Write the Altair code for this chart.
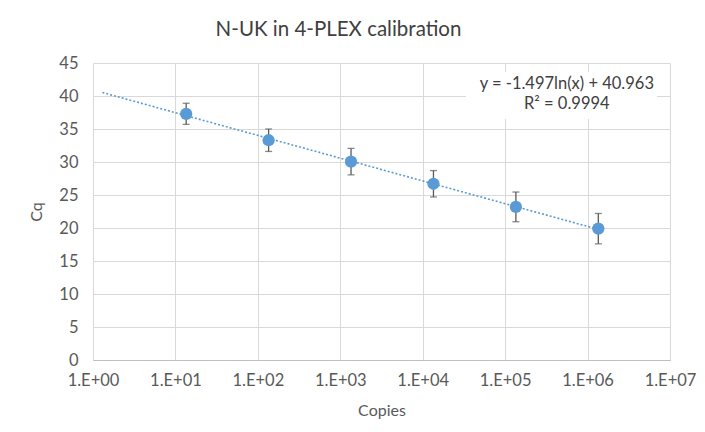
import altair as alt
import pandas as pd

copies = [13.5, 135, 1350, 13500, 135000, 1350000]
cq = [37.3, 33.3, 30.05, 26.7, 23.2, 19.9]
err = [1.6, 1.7, 2.0, 2.0, 2.25, 2.3]

x_ticks = [1, 10, 100, 1000, 10000, 100000, 1000000, 10000000]
y_ticks = [0, 5, 10, 15, 20, 25, 30, 35, 40, 45]

eq_lines = ["y = -1.497ln(x) + 40.963", "R² = 0.9994"]
eq_x = [560000, 560000]
eq_y = [41.85, 38.85]
box = {"x": [33500], "x2": [6950000], "y": [36.5], "y2": [43.6]}

df = pd.DataFrame({"copies": copies, "cq": cq, "err": err})
df["lo"] = df["cq"] - df["err"]
df["hi"] = df["cq"] + df["err"]

FONT = "Lato"
TXT = "#595959"
BLUE = "#5B9BD5"

xscale = alt.Scale(type="log", domain=[1, 10000000])
yscale = alt.Scale(domain=[0, 45], nice=False)

xax = alt.Axis(values=x_ticks, labelExpr="'1.E+' + format(round(log(datum.value)/LN10), '02d')",
               grid=True, gridColor="#d9d9d9", domainColor="#bfbfbf", ticks=False,
               labelPadding=12, titlePadding=14, labelFontSize=16.5, titleFontSize=16,
               labelColor=TXT, titleColor=TXT, labelFont=FONT, titleFont=FONT,
               titleFontWeight="normal", labelOverlap=False, labelFlush=False)
yax = alt.Axis(values=y_ticks, grid=True, gridColor="#d9d9d9", domain=False, ticks=False,
               labelPadding=15, titlePadding=14, labelFontSize=16.5, titleFontSize=16,
               labelColor=TXT, titleColor=TXT, labelFont=FONT, titleFont=FONT,
               titleFontWeight="normal", labelOverlap=False, labelFlush=False)

X = lambda f: alt.X(f, scale=xscale, axis=xax, title="Copies")
Y = lambda f: alt.Y(f, scale=yscale, axis=yax, title="Cq")

base = alt.Chart(df)

trend = base.transform_regression("copies", "cq", method="log", extent=[1.3, 1350000]).mark_line(
    color=BLUE, strokeDash=[2, 2], strokeWidth=1.6
).encode(x=X("copies:Q"), y=Y("cq:Q"))

bars = base.mark_rule(color="#595959", strokeWidth=1.3).encode(
    x=X("copies:Q"), y=Y("lo:Q"), y2="hi:Q"
)
cap_lo = base.mark_tick(color="#595959", thickness=1.3, size=7, orient="horizontal").encode(
    x=X("copies:Q"), y=Y("lo:Q")
)
cap_hi = base.mark_tick(color="#595959", thickness=1.3, size=7, orient="horizontal").encode(
    x=X("copies:Q"), y=Y("hi:Q")
)
points = base.mark_circle(color=BLUE, size=150, opacity=1).encode(
    x=X("copies:Q"), y=Y("cq:Q")
)

rect = alt.Chart(pd.DataFrame(box)).mark_rect(color="white").encode(
    x=X("x:Q"), x2="x2:Q", y=Y("y:Q"), y2="y2:Q"
)
eq = alt.Chart(pd.DataFrame({"t": eq_lines, "x": eq_x, "y": eq_y})).mark_text(
    font=FONT, fontSize=16.5, color="#404040"
).encode(x=X("x:Q"), y=Y("y:Q"), text="t:N")

chart = alt.layer(trend, rect, bars, cap_lo, cap_hi, points, eq).properties(
    width=577, height=297,
    title=alt.TitleParams("N-UK in 4-PLEX calibration", font=FONT, fontSize=20.5,
                          fontWeight="normal", color="#404040", dx=-43, offset=15),
    autosize=alt.AutoSizeParams(type="none"),
    padding={"left": 85, "top": 55, "right": 27, "bottom": 64},
).configure_view(stroke=None)

chart.save("out.html", embed_options={"renderer": "svg", "actions": False})
